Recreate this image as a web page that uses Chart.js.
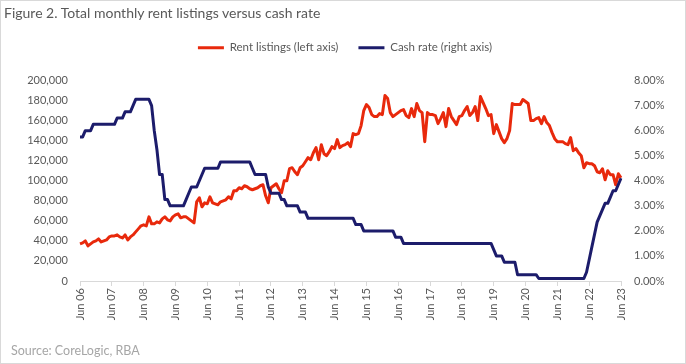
<!DOCTYPE html>
<html>
<head>
<meta charset="utf-8">
<script src="https://cdn.jsdelivr.net/npm/chart.js@4.4.0/dist/chart.umd.min.js"></script>
<style>
  body { margin: 0; background: #fff; }
  #wrap { position: relative; width: 686px; height: 364px; font-family: Lato, sans-serif; }
  #frame { position: absolute; left: 0; top: 0; width: 686px; height: 364px; box-sizing: border-box; border: 1px solid #d9d9d9; pointer-events: none; }
  #title { position: absolute; left: 4px; top: 4px; font-size: 14px; color: #595959; white-space: nowrap; }
  #source { position: absolute; left: 11px; top: 343px; font-size: 12.5px; color: #a6a6a6; white-space: nowrap; }
  canvas { position: absolute; left: 0; top: 0; }
</style>
</head>
<body>
<div id="wrap">
  <canvas id="myChart" width="686" height="364"></canvas>
  <div id="title">Figure 2. Total monthly rent listings versus cash rate</div>
  <div id="source">Source: CoreLogic, RBA</div>
  <div id="frame"></div>
</div>
<script>
// monthly, Jun 2006 .. Jun 2023
const monthNames = ["Jan", "Feb", "Mar", "Apr", "May", "Jun", "Jul", "Aug", "Sep", "Oct", "Nov", "Dec"];
const startMonth = 5; // Jun
const startYear = 6;  // 2006

// total monthly rent listings (left axis)
const rentListings = [
  37000, 38000, 40000, 35000, 37000, 39000, 40000, 42000, 39000, 40000, 41000, 44000,
  45000, 45000, 46000, 44000, 43000, 46000, 41000, 44000, 46000, 49000, 52000, 55000,
  56000, 55000, 64000, 57000, 57000, 59000, 58000, 62000, 64000, 61000, 60000, 64000,
  66000, 67000, 63000, 64000, 64000, 62000, 60000, 58000, 79000, 83000, 74000, 78000,
  77000, 84000, 78000, 77000, 76000, 79000, 80000, 81000, 84000, 82000, 90000, 90000,
  93000, 92000, 95000, 94000, 92000, 91000, 92000, 93000, 95000, 96000, 85000, 78000,
  93000, 95000, 97000, 92000, 88000, 100000, 100000, 112000, 113000, 109000, 106000, 113000,
  115000, 119000, 123000, 121000, 128000, 133000, 121000, 136000, 127000, 125000, 129000, 134000,
  132000, 141000, 133000, 135000, 136000, 138000, 134000, 147000, 146000, 147000, 155000, 170000,
  176000, 173000, 166000, 164000, 164000, 167000, 166000, 185000, 182000, 168000, 164000, 166000,
  168000, 170000, 171000, 165000, 163000, 172000, 164000, 177000, 170000, 168000, 139000, 168000,
  166000, 166000, 165000, 157000, 162000, 168000, 154000, 172000, 164000, 160000, 156000, 164000,
  165000, 170000, 174000, 165000, 168000, 174000, 160000, 184000, 178000, 172000, 165000, 166000,
  147000, 156000, 149000, 142000, 138000, 142000, 150000, 177000, 176000, 176000, 176000, 181000,
  179000, 177000, 160000, 160000, 162000, 163000, 157000, 164000, 158000, 155000, 148000, 142000,
  139000, 139000, 139000, 137000, 136000, 143000, 130000, 132000, 128000, 125000, 113000, 118000,
  117000, 117000, 115000, 109000, 108000, 112000, 101000, 110000, 106000, 106000, 96000, 107000,
  103000
];

// RBA cash rate, % (right axis)
const cashRate = [
  5.75, 5.75, 6.00, 6.00, 6.00, 6.25, 6.25, 6.25, 6.25, 6.25, 6.25, 6.25,
  6.25, 6.25, 6.50, 6.50, 6.50, 6.75, 6.75, 6.75, 7.00, 7.25, 7.25, 7.25,
  7.25, 7.25, 7.25, 7.00, 6.00, 5.25, 4.25, 4.25, 3.25, 3.25, 3.00, 3.00,
  3.00, 3.00, 3.00, 3.00, 3.25, 3.50, 3.75, 3.75, 3.75, 4.00, 4.25, 4.50,
  4.50, 4.50, 4.50, 4.50, 4.50, 4.75, 4.75, 4.75, 4.75, 4.75, 4.75, 4.75,
  4.75, 4.75, 4.75, 4.75, 4.75, 4.50, 4.25, 4.25, 4.25, 4.25, 4.25, 3.75,
  3.50, 3.50, 3.50, 3.50, 3.25, 3.25, 3.00, 3.00, 3.00, 3.00, 3.00, 2.75,
  2.75, 2.75, 2.50, 2.50, 2.50, 2.50, 2.50, 2.50, 2.50, 2.50, 2.50, 2.50,
  2.50, 2.50, 2.50, 2.50, 2.50, 2.50, 2.50, 2.50, 2.25, 2.25, 2.25, 2.00,
  2.00, 2.00, 2.00, 2.00, 2.00, 2.00, 2.00, 2.00, 2.00, 2.00, 2.00, 1.75,
  1.75, 1.75, 1.50, 1.50, 1.50, 1.50, 1.50, 1.50, 1.50, 1.50, 1.50, 1.50,
  1.50, 1.50, 1.50, 1.50, 1.50, 1.50, 1.50, 1.50, 1.50, 1.50, 1.50, 1.50,
  1.50, 1.50, 1.50, 1.50, 1.50, 1.50, 1.50, 1.50, 1.50, 1.50, 1.50, 1.50,
  1.25, 1.00, 1.00, 1.00, 0.75, 0.75, 0.75, 0.75, 0.75, 0.25, 0.25, 0.25,
  0.25, 0.25, 0.25, 0.25, 0.25, 0.10, 0.10, 0.10, 0.10, 0.10, 0.10, 0.10,
  0.10, 0.10, 0.10, 0.10, 0.10, 0.10, 0.10, 0.10, 0.10, 0.10, 0.10, 0.35,
  0.85, 1.35, 1.85, 2.35, 2.60, 2.85, 3.10, 3.10, 3.35, 3.60, 3.60, 3.85,
  4.10
];

const leftTicks = { min: 0, max: 200000, step: 20000 };
const rightTicks = { min: 0, max: 8, step: 1 };

let labels = [];
for (let i = 0; i < rentListings.length; i++) {
  const m = startMonth + i;
  const yr = startYear + Math.floor(m / 12);
  labels.push(monthNames[m % 12] + " " + String(yr).padStart(2, "0"));
}

const grey = "#595959";
const tickFont = { family: "Lato", size: 11 };

// push the plot area down below the legend
const legendGap = {
  id: "legendGap",
  beforeInit(chart) {
    const fit = chart.legend.fit;
    chart.legend.fit = function () {
      fit.bind(chart.legend)();
      this.height += 17;
    };
  }
};

let ctx = document.getElementById("myChart").getContext("2d");
let myChart = new Chart(ctx, {
  type: "line",
  data: {
    labels: labels,
    datasets: [
      {
        label: "Rent listings (left axis)",
        data: rentListings,
        borderColor: "#e8290c",
        backgroundColor: "#e8290c",
        borderWidth: 3,
        yAxisID: "y",
        order: 1
      },
      {
        label: "Cash rate (right axis)",
        data: cashRate,
        borderColor: "#1c1c6b",
        backgroundColor: "#1c1c6b",
        borderWidth: 3,
        yAxisID: "y1",
        order: 0
      }
    ]
  },
  options: {
    responsive: false,
    animation: false,
    elements: {
      point: { radius: 0 },
      line: { tension: 0, borderJoinStyle: "round" }
    },
    layout: { padding: { top: 22, left: 4, right: 0, bottom: 0 } },
    plugins: {
      tooltip: { enabled: false },
      legend: {
        position: "top",
        labels: {
          usePointStyle: true,
          pointStyle: "line",
          pointStyleWidth: 26,
          padding: 20,
          color: grey,
          font: { family: "Lato", size: 11.5 },
          sort: (a, b) => a.datasetIndex - b.datasetIndex
        }
      }
    },
    scales: {
      x: {
        offset: false,
        afterFit: (scale) => { scale.height = 83; },
        grid: {
          drawOnChartArea: false,
          drawTicks: true,
          tickLength: 5,
          color: (c) => (c.index % 12 === 0 ? "#d9d9d9" : "rgba(0,0,0,0)")
        },
        border: { display: true, color: "#d9d9d9" },
        ticks: {
          autoSkip: false,
          minRotation: 90,
          maxRotation: 90,
          padding: 2,
          color: grey,
          font: tickFont,
          callback: function (value, index) {
            return index % 12 === 0 ? labels[index] : "";
          }
        }
      },
      y: {
        position: "left",
        min: leftTicks.min,
        max: leftTicks.max,
        afterFit: (scale) => { scale.width = 76; },
        grid: { display: false, drawTicks: false },
        border: { display: false },
        ticks: {
          stepSize: leftTicks.step,
          padding: 12,
          color: grey,
          font: tickFont,
          callback: (v) => v.toLocaleString("en-US")
        }
      },
      y1: {
        position: "right",
        min: rightTicks.min,
        max: rightTicks.max,
        afterFit: (scale) => { scale.width = 65; },
        grid: { display: false, drawTicks: false },
        border: { display: false },
        ticks: {
          stepSize: rightTicks.step,
          padding: 13,
          color: grey,
          font: tickFont,
          callback: (v) => v.toFixed(2) + "%"
        }
      }
    }
  },
  plugins: [legendGap]
});
</script>
</body>
</html>
